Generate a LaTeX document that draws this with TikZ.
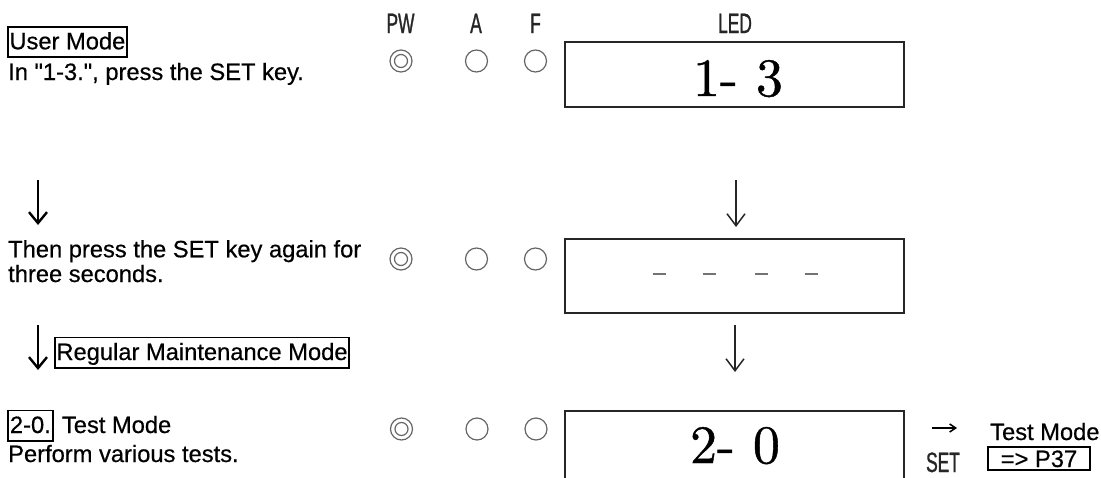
\documentclass[tikz,border=0pt]{standalone}
\usepackage{fontspec}
\newfontfamily\arialf[FakeBold=0.5]{Liberation Sans}
\newfontfamily\narrowf[FakeStretch=0.62,FakeBold=1]{Liberation Sans}
\newfontfamily\ledf{lmroman10-regular.otf}[FakeBold=0.8]
\usetikzlibrary{arrows.meta}
\tikzset{
  txt/.style={inner sep=0pt, anchor=base west, font=\arialf\fontsize{23.7}{28}\selectfont},
  boxlbl/.style={txt, draw, line width=1.9pt, inner xsep=1.5pt, inner ysep=2.5pt, text height=20pt, text depth=5.5pt},
  hdr/.style={inner sep=0pt, anchor=base, font=\narrowf\fontsize{28}{30}\selectfont, text=black!85},
  ledbox/.style={draw=black!85, line width=2pt, minimum width=339pt, inner sep=0pt},
  ledtxt/.style={inner sep=0pt, anchor=base, font=\ledf\fontsize{54}{60}\selectfont},
  lamp/.style={draw=black!60, line width=1.2pt, circle, minimum size=22pt, inner sep=0pt},
  bigdown/.style={line width=2.4pt, -{Straight Barb[length=11pt,width=18pt]}},
  meddown/.style={line width=1.5pt, draw=black!85, -{Straight Barb[length=12pt,width=18pt]}},
  ledash/.style={line width=2.6pt, draw=black!55},
}
\begin{document}
\begin{tikzpicture}[x=1pt,y=-1pt]
\useasboundingbox (0,0) rectangle (1101,477);
\clip (0,0) rectangle (1101,477);

% headers
\node[hdr] (hpw) at (400.5,33) {PW};
\node[hdr] (ha) at (476,33) {A};
\node[hdr] (hf) at (535.5,33) {F};
\node[hdr] (hled) at (735,33) {LED};

% row 1
\node[boxlbl] (um) at (7,49.3) {User Mode};
\node[txt] (t1) at (8,80) {In "1-3.", press the SET key.};
\node[lamp] (pw1) at (401,61) {};
\node[lamp, minimum size=13pt] (pw1i) at (401,61) {};
\node[lamp] (a1) at (476.5,61) {};
\node[lamp] (f1) at (535.5,61) {};
\node[ledbox, minimum height=65pt] (led1) at (734.5,74.5) {};
\node[ledtxt] (l1t) at (738,96) {1- 3};

% arrows 1
\coordinate (la1s) at (38,180); \coordinate (la1e) at (38,225);
\draw[bigdown] (la1s) -- (la1e);
\coordinate (ca1s) at (736,180); \coordinate (ca1e) at (736,227);
\draw[meddown] (ca1s) -- (ca1e);

% row 2
\node[txt] (t2) at (8,257.3) {Then press the SET key again for};
\node[txt] (t3) at (8,282) {three seconds.};
\node[lamp] (pw2) at (401,259) {};
\node[lamp, minimum size=13pt] (pw2i) at (401,259) {};
\node[lamp] (a2) at (476.5,259) {};
\node[lamp] (f2) at (535.5,259) {};
\node[ledbox, minimum height=74pt] (led2) at (734.5,276) {};
\foreach \i/\xx in {1/659,2/709,3/761,4/811}{
  \coordinate (d\i a) at (\xx-6.5,274); \coordinate (d\i b) at (\xx+6.5,274);
  \draw[ledash] (d\i a) -- (d\i b);
}

% arrows 2
\coordinate (la2s) at (38,325); \coordinate (la2e) at (38,370);
\draw[bigdown] (la2s) -- (la2e);
\node[boxlbl] (rmm) at (54,360) {Regular Maintenance Mode};
\coordinate (ca2s) at (735,325); \coordinate (ca2e) at (735,372);
\draw[meddown] (ca2s) -- (ca2e);

% row 3
\node[boxlbl, inner xsep=2pt] (b20) at (7,433) {2-0.};
\node[txt, xshift=8pt] (tm3) at (b20.base east) {Test Mode};
\node[txt] (t4) at (8,462) {Perform various tests.};
\node[lamp] (pw3) at (401.5,429) {};
\node[lamp, minimum size=13pt] (pw3i) at (401.5,429) {};
\node[lamp] (a3) at (477,429) {};
\node[lamp] (f3) at (536,429) {};
\node[ledbox, minimum height=89pt] (led3) at (734.5,455.5) {};
\node[ledtxt] (l3t) at (735,463) {2- 0};

% right side
\coordinate (ras) at (932,428); \coordinate (rae) at (957,428);
\draw[line width=1.5pt, -{Straight Barb[length=6pt,width=8pt]}] (ras) -- (rae);
\node[hdr] (set) at (943,472) {SET};
\node[txt] (tmr) at (990,440) {Test Mode};
\node[draw, line width=1.9pt, inner sep=0pt, minimum width=102pt, minimum height=23pt,
      text height=17pt, text depth=0pt, font=\arialf\fontsize{23.7}{28}\selectfont] (p37) at (1039,458.5) {=> P37};
\end{tikzpicture}
\end{document}
